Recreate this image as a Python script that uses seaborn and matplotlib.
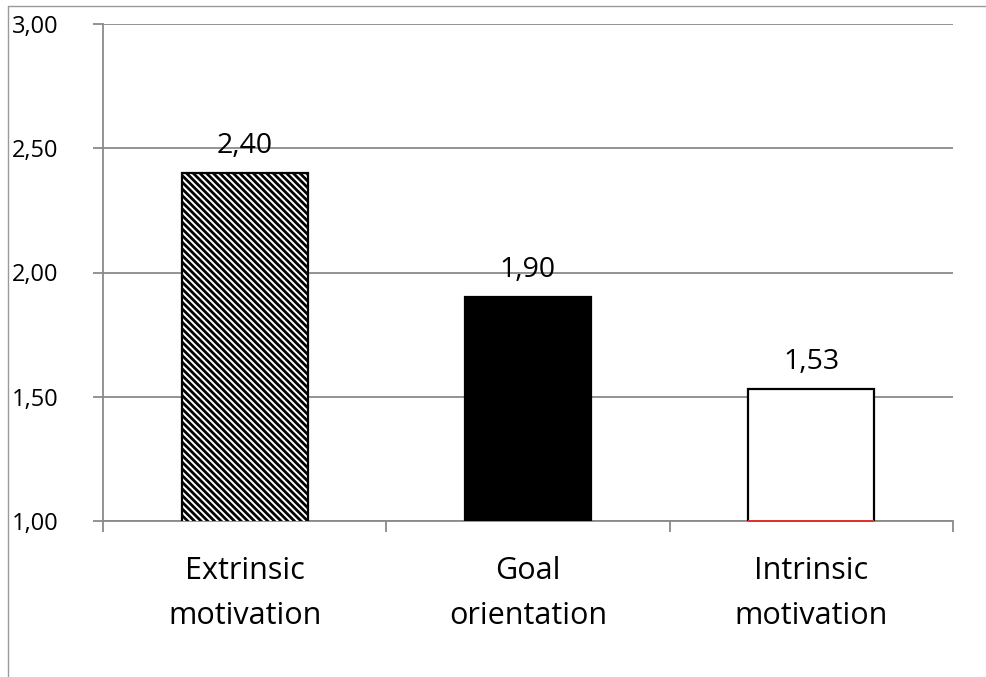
import matplotlib
matplotlib.use("Agg")
import matplotlib.pyplot as plt
from matplotlib.lines import Line2D
from matplotlib.ticker import FuncFormatter, FixedLocator
import seaborn as sns
import pandas as pd

# Mean scores per motivation type
categories = ["Extrinsic\nmotivation", "Goal\norientation", "Intrinsic\nmotivation"]
values = [2.40, 1.90, 1.53]
value_labels = ["2,40", "1,90", "1,53"]
y_ticks = [1.00, 1.50, 2.00, 2.50, 3.00]

df = pd.DataFrame({"category": categories, "score": values})

sns.set_theme(style="white")
plt.rcParams["font.family"] = ["Open Sans", "DejaVu Sans"]
plt.rcParams["hatch.linewidth"] = 2.0
plt.rcParams["hatch.color"] = "black"

fig = plt.figure(figsize=(9.87, 6.77), dpi=100)
ax = fig.add_axes([103 / 987, 1 - 521 / 677, 850 / 987, 497 / 677])

sns.barplot(data=df, x="category", y="score", hue="category",
            palette=["white", "black", "white"], legend=False,
            width=0.445, edgecolor="black", linewidth=1.6, ax=ax, zorder=3)

patches = ax.patches
patches[0].set_hatch("\\\\\\\\\\")

ax.set_ylim(1.0, 3.0)
ax.set_xlim(-0.5, 2.5)
ax.yaxis.set_major_locator(FixedLocator(y_ticks))
ax.yaxis.set_major_formatter(FuncFormatter(lambda v, p: f"{v:.2f}".replace(".", ",")))

# horizontal gridlines
ax.grid(axis="y", color="#8a8a8a", linewidth=1.3, zorder=0)
ax.grid(axis="x", visible=False)
ax.set_axisbelow(True)

for s in ["top", "right"]:
    ax.spines[s].set_visible(False)
for s in ["left", "bottom"]:
    ax.spines[s].set_visible(True)
    ax.spines[s].set_color("#8a8a8a")
    ax.spines[s].set_linewidth(1.3)

ax.tick_params(axis="y", which="major", length=7, width=1.3, color="#8a8a8a",
               direction="out", left=True, labelsize=17, labelcolor="black", pad=25)
ax.tick_params(axis="x", which="major", length=0, labelsize=22,
               labelcolor="black", pad=25)
for t in ax.get_xticklabels():
    t.set_linespacing(1.65)
ax.set_xticks([-0.5, 0.5, 1.5, 2.5], minor=True)
ax.tick_params(axis="x", which="minor", length=8, width=1.3, color="#8a8a8a",
               direction="out", bottom=True)
ax.set_xlabel("")
ax.set_ylabel("")

# value labels above each bar
for p, txt in zip(patches, value_labels):
    ax.annotate(txt, (p.get_x() + p.get_width() / 2, p.get_height()),
                xytext=(0, 14.5), textcoords="offset points",
                ha="center", va="baseline", fontsize=20.5, color="black")

# red base line under the last bar
last = patches[2]
ax.hlines(1.0, last.get_x(), last.get_x() + last.get_width(),
          colors="#e0302a", linewidth=1.4, zorder=5, clip_on=False)

# outer chart frame (top and left edges)
fig.add_artist(Line2D([8 / 987, 1.0], [1 - 6 / 677, 1 - 6 / 677],
                      transform=fig.transFigure, color="#9a9a9a", linewidth=1.0))
fig.add_artist(Line2D([8 / 987, 8 / 987], [0.0, 1 - 6 / 677],
                      transform=fig.transFigure, color="#9a9a9a", linewidth=1.0))

fig.savefig("out.png", dpi=100, facecolor="white")
